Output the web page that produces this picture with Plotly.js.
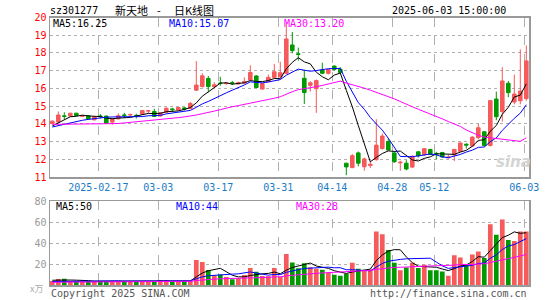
<!DOCTYPE html>
<html><head><meta charset="utf-8">
<script src="https://cdn.plot.ly/plotly-3.0.1.min.js"></script>
<style>html,body{margin:0;padding:0;background:#fff}#c{width:545px;height:300px}</style>
</head><body><div id="c"></div>
<script>
const dates = ['2025-02-05','2025-02-06','2025-02-07','2025-02-10','2025-02-11','2025-02-12','2025-02-13','2025-02-14','2025-02-17','2025-02-18','2025-02-19','2025-02-20','2025-02-21','2025-02-24','2025-02-25','2025-02-26','2025-02-27','2025-02-28',
'2025-03-03','2025-03-04','2025-03-05','2025-03-06','2025-03-07','2025-03-10','2025-03-11','2025-03-12','2025-03-13','2025-03-14','2025-03-17','2025-03-18','2025-03-19','2025-03-20','2025-03-21','2025-03-24','2025-03-25','2025-03-26','2025-03-27','2025-03-28','2025-03-31',
'2025-04-01','2025-04-02','2025-04-03','2025-04-07','2025-04-08','2025-04-09','2025-04-10','2025-04-11','2025-04-14','2025-04-15','2025-04-16','2025-04-17','2025-04-18','2025-04-21','2025-04-22','2025-04-23','2025-04-24','2025-04-25','2025-04-28','2025-04-29','2025-04-30',
'2025-05-06','2025-05-07','2025-05-08','2025-05-09','2025-05-12','2025-05-13','2025-05-14','2025-05-15','2025-05-16','2025-05-19','2025-05-20','2025-05-21','2025-05-22','2025-05-23','2025-05-26','2025-05-27','2025-05-28','2025-05-29','2025-05-30',
'2025-06-03'];

const openP = [14.02,14.10,14.45,14.44,14.60,14.42,14.46,14.22,14.44,14.44, 14.10,14.28,14.50,14.50,14.48,14.55,14.72,14.70,14.45,14.66,
14.84,14.78,14.90,14.87,15.90,16.10,16.56,16.10,16.30,16.27, 16.32,16.25,16.30,16.47,16.70,15.96,16.38,16.62,16.66,16.85,
18.45,17.95,16.57,16.17,15.98,17.04,16.85,17.26,17.08,11.78, 11.53,12.36,11.58,11.65,11.98,12.60,13.00,12.36,11.80,11.78,
11.56,12.42,12.25,12.55,12.33,12.38,12.08,12.25,12.45,12.85, 12.75,13.22,13.55,12.78,15.40,14.69,16.29,15.23,15.30,15.42];
const highP = [14.20,14.70,14.65,14.62,14.62,14.50,14.48,14.42,14.55,14.46, 14.32,14.60,14.62,14.58,14.57,14.78,14.76,14.85,14.65,14.92,
14.90,14.95,14.95,15.24,17.54,16.85,16.70,16.35,16.65,16.35, 16.42,16.38,16.62,17.30,16.75,16.30,16.78,17.38,17.50,19.70,
19.18,18.30,17.05,16.40,16.50,17.45,17.10,17.30,17.20,11.80, 12.30,12.44,12.10,11.90,14.26,13.45,13.20,12.45,11.92,11.95,
12.22,12.47,12.62,12.60,12.42,12.42,12.25,12.58,12.95,12.90, 13.30,14.00,13.60,15.32,15.82,17.20,16.42,16.78,18.20,18.42];
const lowP = [13.98,14.05,14.25,14.40,14.42,14.38,14.25,14.20,14.30,14.02, 13.95,14.25,14.32,14.45,14.30,14.52,14.60,14.38,14.40,14.60,
14.70,14.75,14.75,14.85,15.85,16.05,15.78,16.05,16.15,16.20, 16.20,16.20,16.25,16.43,16.05,15.95,16.35,16.60,16.60,16.80,
17.98,17.56,15.12,15.82,14.62,16.80,16.78,17.00,16.88,11.10, 11.50,11.60,11.35,11.50,11.92,12.55,12.50,11.80,11.35,11.38,
11.50,12.10,12.20,12.25,12.00,12.10,12.05,11.90,12.40,12.60, 12.70,13.15,12.72,12.72,14.20,14.13,15.50,15.10,15.10,15.30];
const closeP = [14.15,14.50,14.42,14.60,14.47,14.46,14.28,14.40,14.42,14.04, 14.30,14.46,14.48,14.52,14.45,14.75,14.74,14.42,14.62,14.88,
14.80,14.92,14.84,15.15,16.19,16.71,16.10,16.20,16.28,16.30, 16.30,16.32,16.38,16.90,16.05,16.27,16.62,16.94,16.88,18.79,
18.13,17.92,15.76,16.32,16.44,16.85,17.07,17.07,16.90,11.57, 12.20,11.78,12.02,11.72,12.80,13.31,12.52,11.86,11.83,11.45,
12.17,12.20,12.60,12.27,12.30,12.13,12.12,12.56,12.92,12.80, 13.25,13.78,12.78,15.31,14.40,16.42,15.76,15.68,15.85,17.55];
const volume = [4.0,6.0,6.2,4.0,4.1,3.8,4.0,3.9,4.0,4.1, 3.8,4.0,4.0,3.9,4.0,3.8,4.0,4.1,5.0,5.0,
4.0,3.8,4.0,4.0,24.1,22.2,14.6,9.5,10.2,7.8, 5.7,6.7,9.8,16.3,12.8,8.9,8.6,16.3,8.2,29.8,
21.6,16.2,21.0,17.2,15.6,14.7,11.8,9.9,9.0,10.9, 21.5,15.6,14.2,14.7,51.0,48.5,33.5,21.5,14.2,16.9,
21.5,16.5,19.4,14.2,14.2,13.0,9.0,28.5,26.5,19.5, 29.3,32.0,26.0,58.0,48.0,62.5,43.0,42.0,51.0,51.0];

// MA values before a full window exists
const ma5Head = [13.88,14.06,14.25,14.40];
const ma10Head = [13.82,13.90,13.98,14.06,14.14,14.20,14.25,14.30,14.33];
const ma30Head = [13.97,13.98,13.99,14.00,14.00,14.00,14.00,14.00,14.00,14.00, 14.00,14.02,14.05,14.08,14.10,14.13,14.16,14.20,14.25,14.28,
14.31,14.35,14.39,14.43,14.50,14.57,14.63,14.72,14.80];
const vma5Head = [4.8,5.0,5.0,5.0];
const vma10Head = [3.6,3.7,3.8,3.9,4.0,4.1,4.2,4.3,4.4];
const vma30Head = [2.9,3.0,3.0,3.1,3.1,3.1,3.2,3.2,3.2,3.3, 3.3,3.3,3.4,3.4,3.4,3.5,3.5,3.5,3.6,3.6,
3.7,3.7,3.7,3.8,4.5,5.2,5.6,5.9,6.2];

const tickDates = ['2025-02-17','2025-03-03','2025-03-17','2025-03-31','2025-04-14','2025-04-28','2025-05-12','2025-06-03'];
const tickText = ['2025-02-17','03-03','03-17','03-31','04-14','04-28','05-12','06-03'];
const priceTicks = [11,12,13,14,15,16,17,18,19,20];
const volTicks = [20,40,60,80];

function movAvg(vals, n, head){
  return vals.map((v,i)=>{
    if(i < n-1) return head[i];
    let s=0; for(let k=i-n+1;k<=i;k++) s+=vals[k];
    return s/n;
  });
}
const idx = dates.map((d,i)=>i);
const UP='#f65a5a', DN='#009a00';
const volColor = idx.map(i=> closeP[i] >= openP[i] ? UP : DN);
const tickVals = tickDates.map(d=>dates.indexOf(d)-0.33);

const W=545,H=300;
const px=x=>x/W, py=y=>1-y/H;
const MONO='DejaVu Sans Mono';

const traces = [
 {type:'candlestick', x:idx, open:openP, high:highP, low:lowP, close:closeP, xaxis:'x', yaxis:'y',
  increasing:{line:{color:UP,width:1},fillcolor:UP}, decreasing:{line:{color:DN,width:1},fillcolor:DN},
  whiskerwidth:0, hoverinfo:'none', showlegend:false},
 {type:'scatter', mode:'lines', x:idx, y:movAvg(closeP,5,ma5Head), line:{color:'#000000',width:1}, xaxis:'x', yaxis:'y', hoverinfo:'none'},
 {type:'scatter', mode:'lines', x:idx, y:movAvg(closeP,10,ma10Head), line:{color:'#0000ff',width:1}, xaxis:'x', yaxis:'y', hoverinfo:'none'},
 {type:'scatter', mode:'lines', x:idx, y:movAvg(closeP,30,ma30Head), line:{color:'#ff00ff',width:1}, xaxis:'x', yaxis:'y', hoverinfo:'none'},
 {type:'bar', x:idx, y:volume, marker:{color:volColor,line:{width:0}}, width:0.78, xaxis:'x2', yaxis:'y2', hoverinfo:'none'},
 {type:'scatter', mode:'lines', x:idx, y:movAvg(volume,5,vma5Head), line:{color:'#000000',width:1}, xaxis:'x2', yaxis:'y2', hoverinfo:'none'},
 {type:'scatter', mode:'lines', x:idx, y:movAvg(volume,10,vma10Head), line:{color:'#0000ff',width:1}, xaxis:'x2', yaxis:'y2', hoverinfo:'none'},
 {type:'scatter', mode:'lines', x:idx, y:movAvg(volume,30,vma30Head), line:{color:'#ff00ff',width:1}, xaxis:'x2', yaxis:'y2', hoverinfo:'none'}
];

function ann(text,x,y,color,anchor,size,family,extra){
  return Object.assign({text:text, x:px(x), y:py(y), xref:'paper', yref:'paper', xanchor:anchor||'left', yanchor:'middle',
    showarrow:false, font:{family:family||MONO, size:size||10, color:color||'#000'}}, extra||{});
}
const CJK='Noto Sans CJK SC';
const annotations = [
  ann('sz301277',48,11,'#000','left',10),
  ann('新天地',131,10,'#000','center',11,CJK),
  ann('-',159,10,'#000','center',11,CJK),
  ann('日K线图',194,10,'#000','center',11,CJK),
  ann('2025-06-03 15:00:00',508,11,'#000','right',10),
  ann('MA5:16.25',51,24,'#000','left',10),
  ann('MA10:15.07',167,24,'#0000ff','left',10),
  ann('MA30:13.20',282,24,'#ff00ff','left',10),
  ann('MA5:50',54,206,'#000','left',10),
  ann('MA10:44',174,206,'#0000ff','left',10),
  ann('MA30:28',294,206,'#ff00ff','left',10),
  ann('x万',36,288,'#aaaaaa','center',9,CJK),
  ann('Copyright 2025 SINA.COM',49,293,'#555','left',10),
  ann('http://finance.sina.com.cn',529,293,'#555','right',10),
  ann('<b><i>sina</i></b>',513,162,'#d4d4d4','center',15,'DejaVu Sans')
];

const xcommon = {domain:[px(50),px(529)], range:[-0.383,79.45], tickvals:tickVals, ticktext:tickText,
  showgrid:true, gridcolor:'#b0b0b0', griddash:'dash', gridwidth:1, zeroline:false,
  showline:true, mirror:true, linecolor:'#999', linewidth:1.5, ticks:'', fixedrange:true};
const layout = {
  width:W, height:H, margin:{l:0,r:0,t:0,b:0}, paper_bgcolor:'#fff', plot_bgcolor:'#fff',
  showlegend:false, boxgap:0.15, bargap:0.2,
  xaxis:Object.assign({}, xcommon, {anchor:'y', rangeslider:{visible:false},
     tickfont:{family:MONO,size:10,color:'#1a7cc8'}}),
  yaxis:{domain:[py(177),py(17.5)], range:[11,20], tickvals:priceTicks, anchor:'x',
     tickfont:{family:MONO,size:10,color:'#ff0000'}, showgrid:true, gridcolor:'#b0b0b0', griddash:'dot',
     zeroline:false, showline:true, mirror:true, linecolor:'#999', linewidth:1.5, ticks:''},
  xaxis2:Object.assign({}, xcommon, {anchor:'y2', showticklabels:false}),
  yaxis2:{domain:[py(285.3),py(201)], range:[0,80], tickvals:volTicks, anchor:'x2',
     tickfont:{family:MONO,size:10,color:'#999999'}, showgrid:true, gridcolor:'#b0b0b0', griddash:'dot',
     zeroline:false, showline:true, mirror:true, linecolor:'#999', linewidth:1.5, ticks:''},
  annotations:annotations
};
Plotly.newPlot('c', traces, layout, {displayModeBar:false, staticPlot:true});
</script>
</body></html>
